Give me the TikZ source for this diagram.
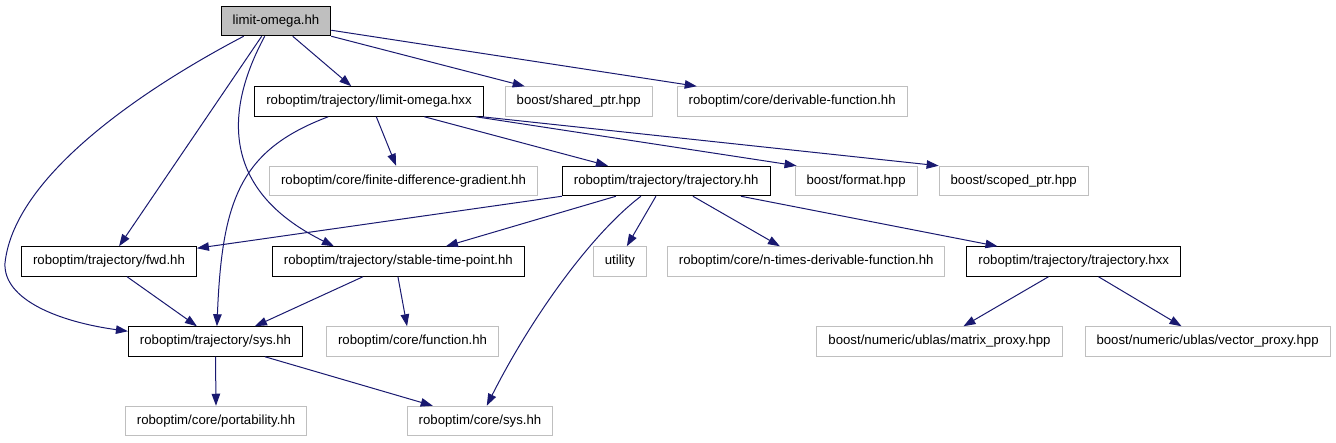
\documentclass[tikz,border=0pt]{standalone}
\usepackage{fontspec}
\setsansfont{Liberation Sans}
\usepackage{xcolor}
\usetikzlibrary{arrows.meta, positioning}
\definecolor{edgeblue}{HTML}{191970}
\definecolor{extgray}{HTML}{BFBFBF}

\begin{document}
\begin{tikzpicture}[
        x=1pt, y=1pt,
        >={Triangle[length=12pt,width=8.5pt]},
        font=\sffamily\fontsize{13.2}{15}\selectfont,
        % file boxes
        header/.style={rectangle, draw=black, line width=1pt, minimum height=29.5pt, inner xsep=11.5pt, inner ysep=0pt},
        rootfile/.style={header, fill=extgray},
        extfile/.style={header, draw=extgray},
        arrow/.style={->, draw=edgeblue, line width=1pt}
    ]
    \useasboundingbox (0,0) rectangle (1336,-443);

    % --- 1. FILES ---
    \node[rootfile] (top) at (276,-21) {limit-omega.hh};

    \node[header] (hxx) at (369,-101.5) {roboptim/trajectory/limit-omega.hxx};
    \node[extfile, right=21pt of hxx] (sptr) {boost/shared\_ptr.hpp};
    \node[extfile, right=24pt of sptr] (deriv) {roboptim/core/derivable-function.hh};

    \node[extfile] (fdg) at (403.5,-181) {roboptim/core/finite-difference-gradient.hh};
    \node[header, right=24pt of fdg] (traj) {roboptim/trajectory/trajectory.hh};
    \node[extfile, right=24pt of traj] (fmt) {boost/format.hpp};
    \node[extfile, right=21pt of fmt] (scptr) {boost/scoped\_ptr.hpp};

    \node[header] (fwd) at (109,-261.5) {roboptim/trajectory/fwd.hh};
    \node[header, right=75pt of fwd] (stp) {roboptim/trajectory/stable-time-point.hh};
    \node[extfile, right=68pt of stp] (util) {utility};
    \node[extfile, right=20pt of util] (ntimes) {roboptim/core/n-times-derivable-function.hh};
    \node[header, right=21pt of ntimes] (txx) {roboptim/trajectory/trajectory.hxx};

    \node[header] (sys) at (215.5,-341.5) {roboptim/trajectory/sys.hh};
    \node[extfile, right=23pt of sys] (func) {roboptim/core/function.hh};
    \node[extfile] (mproxy) at (939.5,-341.5) {boost/numeric/ublas/matrix\_proxy.hpp};
    \node[extfile, right=22pt of mproxy] (vproxy) {boost/numeric/ublas/vector\_proxy.hpp};

    \node[extfile] (port) at (216,-421) {roboptim/core/portability.hh};
    \node[extfile] (csys) at (480,-421) {roboptim/core/sys.hh};

    % --- 2. INCLUDES ---
    % limit-omega.hh
    \draw[arrow] ([xshift=72pt]top.south west) -- ([xshift=97pt]hxx.north west);
    \draw[arrow] (top.south east) -- ([xshift=20pt]sptr.north west);
    \draw[arrow] ([yshift=6pt]top.south east) -- ([xshift=20pt]deriv.north west);
    \draw[arrow] ([xshift=41pt]top.south west) -- ([xshift=98pt]fwd.north west);
    \draw[arrow] ([xshift=44pt]top.south west) .. controls (225,-110) and (220,-190) .. ([xshift=62pt]stp.north west);
    \draw[arrow] ([xshift=23pt]top.south west) .. controls (160,-80) and (15,-170) .. (5,-263)
        .. controls (3,-300) and (60,-322) .. ([yshift=-5pt]sys.north west);

    % limit-omega.hxx
    \draw[arrow] ([xshift=74pt]hxx.south west) .. controls (240,-150) and (222,-200) .. ([xshift=89pt]sys.north west);
    \draw[arrow] ([xshift=122pt]hxx.south west) -- ([xshift=127pt]fdg.north west);
    \draw[arrow] ([xshift=170pt]hxx.south west) -- ([xshift=46pt]traj.north west);
    \draw[arrow] ([xshift=-8pt]hxx.south east) -- ([xshift=2pt]fmt.north west);
    \draw[arrow] ([xshift=-2pt]hxx.south east) -- (scptr.north west);

    % trajectory.hh
    \draw[arrow] (traj.south west) -- ([yshift=-2pt]fwd.north east);
    \draw[arrow] ([xshift=54pt]traj.south west) -- ([xshift=174pt]stp.north west);
    \draw[arrow] ([xshift=79pt]traj.south west) .. controls (590,-235) and (530,-320) .. ([xshift=80pt]csys.north west);
    \draw[arrow] ([xshift=94pt]traj.south west) -- ([xshift=34pt]util.north west);
    \draw[arrow] ([xshift=131pt]traj.south west) -- ([xshift=113pt]ntimes.north west);
    \draw[arrow] ([xshift=179pt]traj.south west) -- ([xshift=31pt]txx.north west);

    % second level
    \draw[arrow] ([xshift=106pt]fwd.south west) -- ([xshift=69pt]sys.north west);
    \draw[arrow] ([xshift=91pt]stp.south west) -- ([xshift=127pt]sys.north west);
    \draw[arrow] ([xshift=126pt]stp.south west) -- ([xshift=81pt]func.north west);
    \draw[arrow] ([xshift=82pt]txx.south west) -- ([xshift=147pt]mproxy.north west);
    \draw[arrow] ([xshift=132pt]txx.south west) -- ([xshift=97pt]vproxy.north west);

    % sys.hh
    \draw[arrow] (sys.south) -- (port.north);
    \draw[arrow] ([xshift=137pt]sys.south west) -- ([xshift=26pt]csys.north west);

\end{tikzpicture}
\end{document}
